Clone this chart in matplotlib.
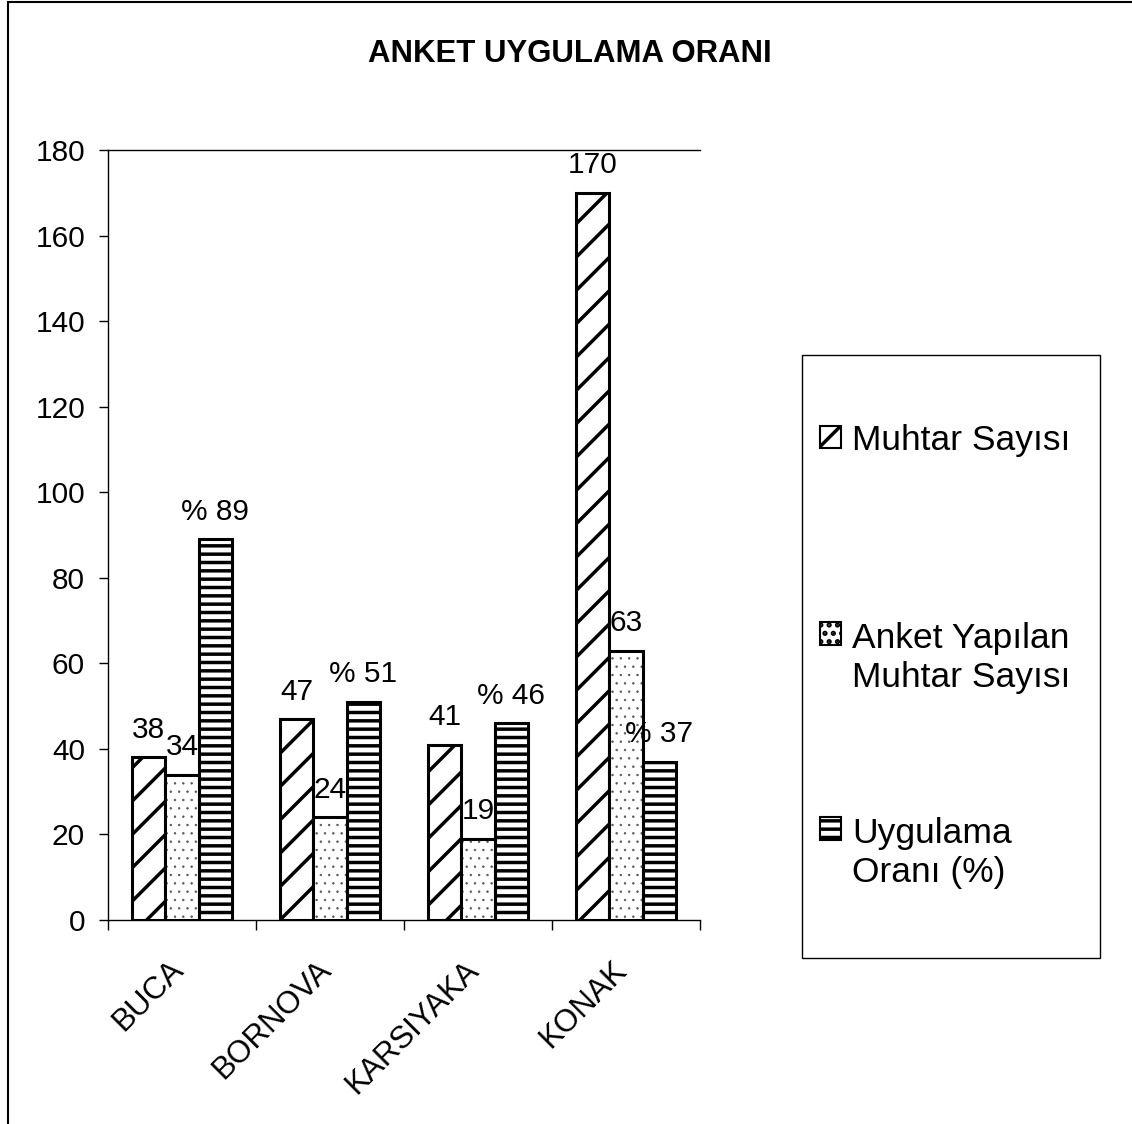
import matplotlib
matplotlib.use("Agg")
import matplotlib.pyplot as plt
from matplotlib.patches import Rectangle, Patch
import numpy as np

plt.rcParams['font.family'] = ['Liberation Sans', 'DejaVu Sans']
plt.rcParams['hatch.linewidth'] = 2.5

districts = ['BUCA', 'BORNOVA', 'KARSIYAKA', 'KONAK']
muhtar = [38, 47, 41, 170]
anket = [34, 24, 19, 63]
oran = [89, 51, 46, 37]
series_names = ['Muhtar Sayısı', 'Anket Yapılan\nMuhtar Sayısı', 'Uygulama\nOranı (%)']
hatches = ['/', '..', '--']

fig = plt.figure(figsize=(11.32, 11.24), dpi=100)
ax = fig.add_axes([108 / 1132, 1 - 920 / 1124, 592 / 1132, 770 / 1124])

x = np.arange(len(districts))
w = 0.225
series = [muhtar, anket, oran]
for i, vals in enumerate(series):
    pos = x + (i - 1) * w
    if i == 1:
        # light dotted fill, then black outline on top
        bars = ax.bar(pos, vals, w, color='white', edgecolor='#555555', linewidth=0,
                      hatch=hatches[i], zorder=2)
        for b in bars:
            if hasattr(b, 'set_hatch_linewidth'):
                b.set_hatch_linewidth(0.5)
        ax.bar(pos, vals, w, fill=False, edgecolor='black', linewidth=2.2, zorder=3)
    else:
        ax.bar(pos, vals, w, color='white', edgecolor='black', linewidth=2.2,
               hatch=hatches[i], zorder=2)
    for px, v in zip(pos, vals):
        txt = ('% ' + str(v)) if i == 2 else str(v)
        ax.annotate(txt, (px, v), xytext=(0, 14), textcoords='offset points',
                    ha='center', va='baseline', fontsize=21.5, zorder=4)

ax.set_xlim(-0.5, 3.5)
ax.set_ylim(0, 180)
ax.set_yticks(np.arange(0, 181, 20))
ax.tick_params(axis='y', direction='out', length=6.5, width=1, labelsize=21.5, pad=10)

# ticks sit on the category boundaries, names are placed under the centres
ax.set_xticks(np.arange(-0.5, 3.6, 1))
ax.set_xticklabels([])
ax.tick_params(axis='x', which='major', direction='out', length=7, width=1)
for xi, name in zip(x, districts):
    ax.annotate(name, (xi, 0), xycoords=('data', 'axes fraction'), xytext=(-10, -25),
                textcoords='offset points', rotation=45, ha='right', va='top',
                rotation_mode='anchor', fontsize=22.5)

ax.spines['right'].set_visible(False)
for s in ['left', 'bottom', 'top']:
    ax.spines[s].set_linewidth(1)

fig.text(570 / 1132, 1 - 62 / 1124, 'ANKET UYGULAMA ORANI', ha='center', va='baseline',
         fontsize=22.4, fontweight='bold')

# legend: one entry per block so rows sit where the reference has them
handles = []
for h in hatches:
    p = Patch(facecolor='white', edgecolor='black', hatch=h, linewidth=1.5)
    if h == '..' and hasattr(p, 'set_hatch_linewidth'):
        p.set_hatch_linewidth(0.5)
    handles.append(p)
row_y = [440, 658, 853]
for h, name, ry in zip(handles, series_names, row_y):
    leg = fig.legend([h], [name], loc='center left', bbox_to_anchor=(820 / 1132, 1 - ry / 1124),
                     frameon=False, fontsize=25.5, handlelength=0.6, handleheight=0.6,
                     handletextpad=0.3, borderpad=0, borderaxespad=0)
    if '\n' in name:
        # marker next to the first line, like the original
        try:
            for col in leg._legend_handle_box.get_children():
                for item in col.get_children():
                    item.align = 'top'
        except AttributeError:
            pass

# legend box
fig.patches.append(Rectangle((802 / 1132, 1 - 958 / 1124), 298 / 1132, 603 / 1124,
                             transform=fig.transFigure, fill=False, edgecolor='black', linewidth=1))
# outer border
fig.patches.append(Rectangle((8 / 1132, -0.01), 1.1, 1 - 2 / 1124 + 0.01,
                             transform=fig.transFigure, fill=False, edgecolor='black', linewidth=1.5))

fig.savefig('out.png', dpi=100)
